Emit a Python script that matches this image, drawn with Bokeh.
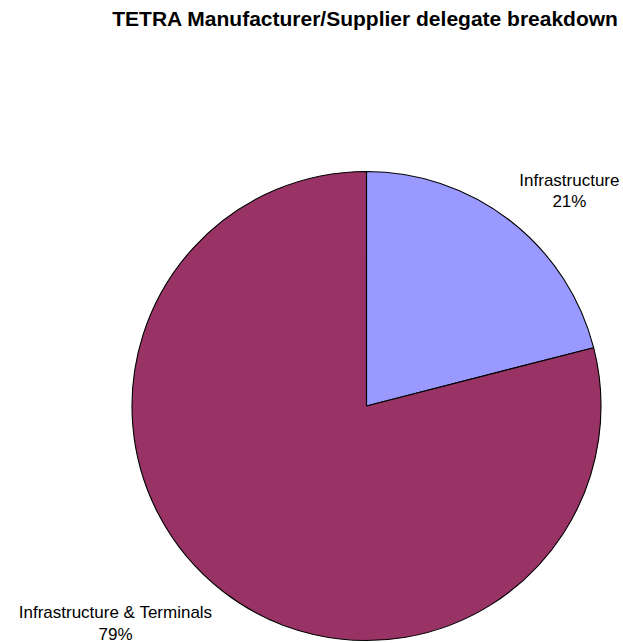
import numpy as np
from bokeh.plotting import figure
from bokeh.models import Range1d, ColumnDataSource
from bokeh.core.properties import value
from bokeh.embed import file_html
from bokeh.resources import INLINE

# ---- data ----
categories = ["Infrastructure", "Infrastructure & Terminals"]
shares = [21, 79]
colors = ["#9999FF", "#993366"]
title_text = "TETRA Manufacturer/Supplier delegate breakdown"

# ---- layout (pixels) ----
W, H = 623, 643
cx, cy = 366, H - 405.5
R = 234.5
label_xoff = [52, -100]
label_yoff = [0, 2.5]

vals = np.array(shares, dtype=float)
frac = vals / vals.sum()
start = np.pi / 2 - 2 * np.pi * np.concatenate([[0], np.cumsum(frac)[:-1]])
end = start - 2 * np.pi * frac
mid = (start + end) / 2

p = figure(width=W, height=H, output_backend="svg", toolbar_location=None,
           x_range=Range1d(0, W), y_range=Range1d(0, H),
           min_border=0, outline_line_color=None)
p.axis.visible = False
p.grid.visible = False
p.background_fill_color = "white"

src = ColumnDataSource(dict(start=start, end=end, color=colors, cat=categories))
p.wedge(x=cx, y=cy, radius=R, start_angle="start", end_angle="end",
        direction="clock", fill_color="color", line_color="black",
        line_width=1.1, source=src)

lr = 1.05 * R
lx = cx + lr * np.cos(mid)
ly = cy + lr * np.sin(mid)
labels = [f"{c}\n{int(round(f * 100))}%" for c, f in zip(categories, frac)]
base = ["bottom" if np.sin(m) > 0 else "top" for m in mid]
lsrc = ColumnDataSource(dict(x=lx, y=ly, text=labels, xoff=label_xoff,
                             yoff=label_yoff, base=base))
p.text(x="x", y="y", text="text", x_offset="xoff", y_offset="yoff",
       text_baseline="base", text_align="center",
       text_font=value("Liberation Sans"), text_font_size="17px",
       text_color="#000000", text_line_height=1.15, source=lsrc)

p.text(x=[365], y=[H - 17.7], text=[title_text], text_align="center",
       text_baseline="alphabetic", text_font=value("Liberation Sans"),
       text_font_size="21px", text_font_style="bold", text_color="#000000")

open("out.html", "w").write(file_html(p, INLINE))
